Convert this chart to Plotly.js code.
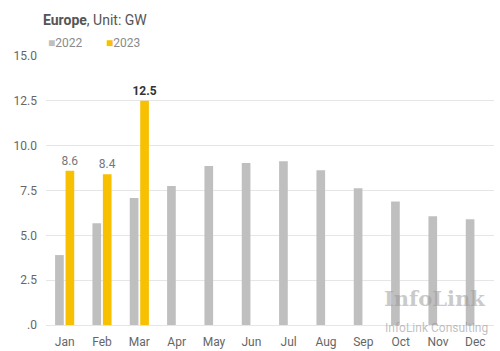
<!DOCTYPE html>
<html><head><meta charset="utf-8">
<script src="https://cdn.plot.ly/plotly-3.0.1.min.js"></script>
<style>html,body{margin:0;padding:0;background:#fff}#c{width:500px;height:351px}</style>
</head><body><div id="c"></div>
<script>
const months = ["Jan","Feb","Mar","Apr","May","Jun","Jul","Aug","Sep","Oct","Nov","Dec"];
const v2022 = [3.9,5.67,7.08,7.75,8.87,9.03,9.13,8.63,7.62,6.88,6.06,5.89];
const v2023 = [8.6,8.4,12.5,null,null,null,null,null,null,null,null,null];
const labels2023 = ["8.6","8.4","<b>12.5</b>"];
const labelColors2023 = ["#777777","#777777","#333333"];
const seriesNames = ["2022","2023"];
const seriesColors = ["#bfbfbf","#f7c000"];
const yTickVals = [0,2.5,5,7.5,10,12.5,15];
const yTickText = [".0","2.5","5.0","7.5","10.0","12.5","15.0"];

const traces = [
  {type:"bar", name:seriesNames[0], x:months, y:v2022, marker:{color:seriesColors[0]}, hoverinfo:"skip"},
  {type:"bar", name:seriesNames[1], x:months, y:v2023, marker:{color:seriesColors[1]},
   text:labels2023.concat(Array(9).fill("")), textposition:"outside", cliponaxis:false, constraintext:"none",
   textfont:{size:12, color:labelColors2023.concat(Array(9).fill("#777"))}, hoverinfo:"skip"}
];
const legendX = [0.0, 0.13];
const legendAnn = seriesNames.map((n,i)=>({
  text:"<span style='color:"+seriesColors[i]+"'>■</span>"+n, xref:"paper", yref:"paper",
  x:legendX[i], y:1.048, xanchor:"left", yanchor:"middle", showarrow:false,
  font:{size:12, color:"#8a8a8a"}
}));
const layout = {
  width:500, height:351,
  margin:{l:46, r:6, t:56, b:26},
  paper_bgcolor:"#fff", plot_bgcolor:"#fff",
  font:{family:"Roboto, Arial, sans-serif", color:"#666"},
  title:{text:"<b>Europe</b>, Unit: GW", x:0.086, xanchor:"left", y:0.943, yanchor:"middle",
         font:{size:14, color:"#555"}},
  showlegend:false,
  barmode:"group", bargap:0.44, bargroupgap:0.17,
  xaxis:{tickfont:{size:12, color:"#666"}, showgrid:false, showline:false, ticks:"", ticklabelstandoff:8, fixedrange:true},
  yaxis:{range:[0,15], tickvals:yTickVals, ticktext:yTickText, tickfont:{size:12, color:"#666"},
         gridcolor:"#e6e6e6", gridwidth:1, zeroline:true, zerolinecolor:"#e6e6e6", showline:false, ticks:"", ticklabelstandoff:8},
  annotations:legendAnn.concat([
    {text:"<b>InfoLink</b>", xref:"paper", yref:"paper", x:0.985, y:0.045, xanchor:"right", yanchor:"bottom",
     showarrow:false, font:{family:"DejaVu Serif, serif", size:21, color:"rgba(150,150,150,0.5)"}},
    {text:"InfoLink Consulting", xref:"paper", yref:"paper", x:0.99, y:-0.01, xanchor:"right", yanchor:"middle",
     showarrow:false, font:{size:12, color:"rgba(140,140,140,0.55)"}}
  ])
};
Plotly.newPlot("c", traces, layout, {displayModeBar:false, staticPlot:true});
</script></body></html>
